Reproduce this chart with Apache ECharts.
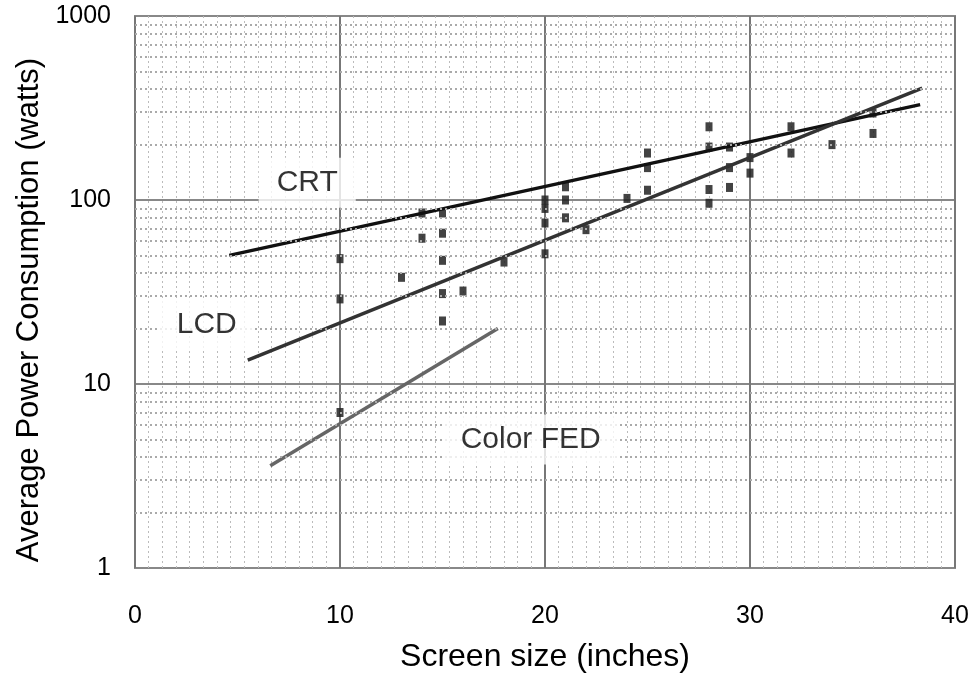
<!DOCTYPE html>
<html>
<head>
<meta charset="utf-8">
<script src="https://cdn.jsdelivr.net/npm/echarts@6/dist/echarts.min.js"></script>
<style>
  html, body { margin: 0; padding: 0; background: #fff; }
  #chart { width: 975px; height: 682px; }
</style>
</head>
<body>
<div id="chart"></div>
<script>
// measured points (screen size in inches, watts)
var measured = [
    [10, 48], [10, 29], [10, 7], [13, 38],
    [14, 85], [14, 62], [15, 85], [15, 66], [15, 47], [15, 31], [15, 22], [16, 32],
    [18, 46], [20, 100], [20, 90], [20, 75], [20, 51], [21, 118], [21, 100], [21, 80],
    [22, 69], [24, 102], [25, 180], [25, 150], [25, 113],
    [28, 250], [28, 194], [28, 114], [28, 96], [29, 194], [29, 150], [29, 117],
    [30, 170], [30, 140], [32, 250], [32, 180], [34, 200], [36, 297], [36, 230]
];
// fitted trend lines
var crtLine = [[4.6, 50], [38.3, 330]];
var lcdLine = [[5.5, 13.5], [38.4, 405]];
var fedLine = [[6.6, 3.6], [17.7, 20]];
// label positions
var labelNames = ['CRT', 'LCD', 'Color FED'];
var labelPos = [[8.4, 124], [3.5, 21], [19.3, 5.0]];
// minor log grid values
var minorY = [2, 3, 4, 5, 6, 7, 8, 9, 20, 30, 40, 50, 60, 70, 80, 90, 200, 300, 400, 500, 600, 700, 800, 900];

var chartDom = document.getElementById('chart');
var myChart = echarts.init(chartDom);

var font = 'Liberation Sans';

var option = {
    backgroundColor: '#fff',
    animation: false,
    grid: {
        left: 135,
        right: 20,
        top: 16,
        bottom: 114,
        show: true,
        borderColor: '#888',
        borderWidth: 2
    },
    xAxis: {
        type: 'value',
        min: 0,
        max: 40,
        interval: 10,
        name: 'Screen size (inches)',
        nameLocation: 'middle',
        nameGap: 73,
        nameTextStyle: { fontSize: 32, color: '#000', fontFamily: font },
        axisLine: { show: false },
        axisTick: { show: false },
        axisLabel: { margin: 36, fontSize: 25, color: '#000', fontFamily: font },
        splitLine: { show: true, lineStyle: { color: '#777', width: 2 } },
        minorTick: { show: false, splitNumber: 15 },
        minorSplitLine: { show: true, lineStyle: { color: '#bbb', width: 1, type: [2, 3] } }
    },
    yAxis: {
        type: 'log',
        logBase: 10,
        min: 1,
        max: 1000,
        name: 'Average Power Consumption (watts)',
        nameLocation: 'middle',
        nameGap: 90,
        nameTextStyle: { fontSize: 31, color: '#000', fontFamily: font, padding: [0, 36, 0, 0] },
        axisLine: { show: false },
        axisTick: { show: false },
        axisLabel: {
            margin: 24,
            fontSize: 25,
            color: '#000',
            fontFamily: font,
            formatter: function (v) { return String(v); }
        },
        splitLine: { show: true, lineStyle: { color: '#888', width: 2 } }
    },
    series: [
        {
            name: 'grid',
            type: 'line',
            data: [],
            silent: true,
            markLine: {
                silent: true,
                symbol: 'none',
                label: { show: false },
                lineStyle: { color: '#aaa', width: 2, type: [2, 3] },
                data: minorY.map(function (v) { return { yAxis: v }; })
            }
        },
        {
            name: 'CRT',
            type: 'line',
            data: crtLine,
            showSymbol: false,
            lineStyle: { color: '#111', width: 3.5 }
        },
        {
            name: 'LCD',
            type: 'line',
            data: lcdLine,
            showSymbol: false,
            lineStyle: { color: '#333', width: 3.5 }
        },
        {
            name: 'Color FED',
            type: 'line',
            data: fedLine,
            showSymbol: false,
            lineStyle: { color: '#666', width: 3.5 }
        },
        {
            name: 'measured',
            type: 'scatter',
            data: measured,
            symbol: 'rect',
            symbolSize: [7, 9],
            itemStyle: { color: '#222', opacity: 0.85 }
        },
        {
            name: 'labels',
            type: 'scatter',
            symbolSize: 0,
            z: 10,
            data: labelPos.map(function (p, i) {
                return { value: p, name: labelNames[i] };
            }),
            label: {
                show: true,
                position: 'inside',
                formatter: '{b}',
                fontSize: 30,
                fontFamily: font,
                color: '#000',
                backgroundColor: '#fff',
                padding: [10, 18]
            }
        }
    ]
};

myChart.setOption(option);
</script>
</body>
</html>
